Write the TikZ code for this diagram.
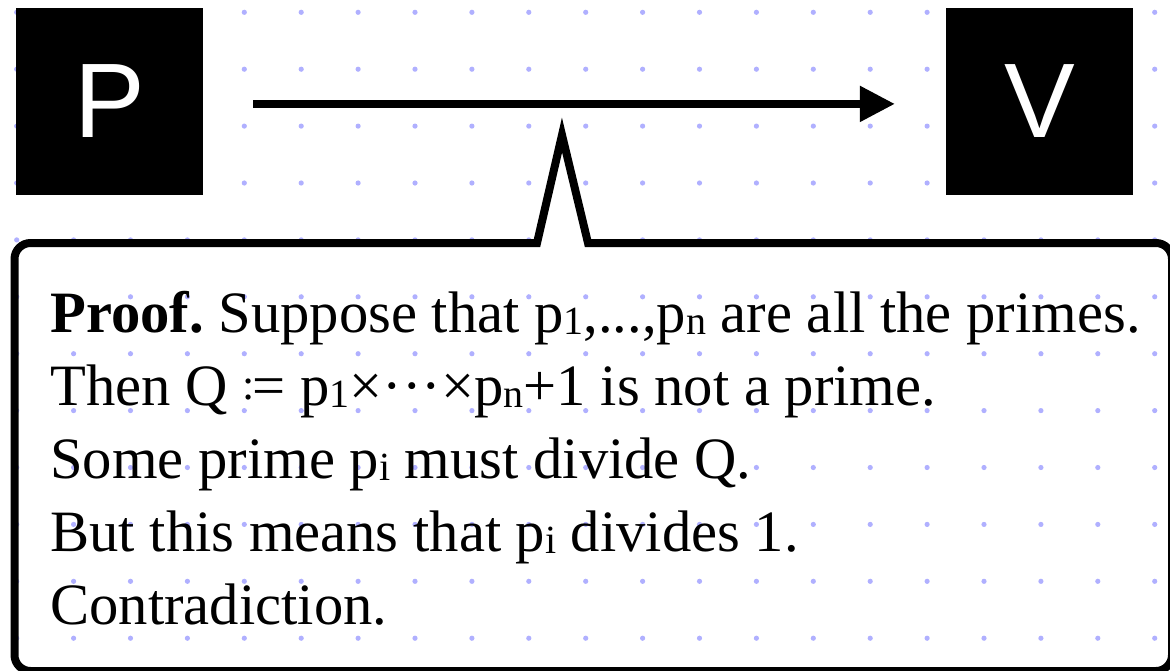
\documentclass[tikz,border=0pt]{standalone}
\usepackage{fontspec}
\usepackage{graphicx}
\setmainfont{Liberation Serif}
\newfontfamily\boxfont{Liberation Sans}
\usetikzlibrary{arrows.meta}
\definecolor{dotc}{RGB}{176,176,255}
\frenchspacing
\newcommand\sbs[1]{\raisebox{-1pt}{\fontsize{20}{22}\selectfont #1}}
\newcommand\myce{\raisebox{0.1em}{\scalebox{0.75}{:}}\kern-0.03em=}
\tikzset{
  blackbox/.style={fill=black, draw=none, minimum size=93.5pt, inner sep=0pt,
    text=white, font=\boxfont\fontsize{53}{60}\selectfont},
  flowarrow/.style={line width=4pt, -{Triangle[length=17.5pt,width=17pt]}},
  calloutline/.style={line width=4pt, line join=miter, draw=black},
  proofline/.style={anchor=base west, inner sep=0pt, font=\fontsize{29.3}{34}\selectfont}
}
\begin{document}
\begin{tikzpicture}[x=0.5pt,y=-0.5pt]
\useasboundingbox (0,0) rectangle (1170,670);
\begin{scope}
\clip (0,0) rectangle (1170,670);
% dot grid
\foreach \i in {0,...,20}{
  \foreach \j in {0,...,11}{
    \fill[dotc] (16.7+56.9*\i, 12.3+56.9*\j) circle (1.3pt);
  }
}
% boxes
\node[blackbox] (P) at (109.5,101.5) {P};
\node[blackbox] (V) at (1039.8,101.5) {V};
% arrow
\draw[flowarrow, shorten <=25pt, shorten >=25.5pt] ([yshift=-1.2pt]P.east) -- ([yshift=-1.2pt]V.west);
% callout
\coordinate (s1) at (537,243);
\coordinate (apex) at (562,135);
\coordinate (s2) at (588,243);
\draw[calloutline]
  (s1) -- (apex) -- (s2)
  -- (1156,243) .. controls (1164.8,243) and (1172,250.2) .. (1172,259)
  -- (1172,655) .. controls (1172,663.8) and (1164.8,671) .. (1156,671)
  -- (30.5,671) .. controls (21.7,671) and (14.5,663.8) .. (14.5,655)
  -- (14.5,259) .. controls (14.5,250.2) and (21.7,243) .. (30.5,243)
  -- cycle;
% text
\node[proofline] (l1) at (50,332) {\textbf{Proof.} Suppose that p\sbs{1},...,p\sbs{n} are all the primes.};
\node[proofline] (l2) at (50,405) {Then Q \myce{} p\sbs{1}×···×p\sbs{n}+1 is not a prime.};
\node[proofline] (l3) at (50,478) {Some prime p\sbs{i} must divide Q.};
\node[proofline] (l4) at (50,551) {But this means that p\sbs{i} divides 1.};
\node[proofline] (l5) at (50,624) {Contradiction.};
\end{scope}
\end{tikzpicture}
\end{document}
